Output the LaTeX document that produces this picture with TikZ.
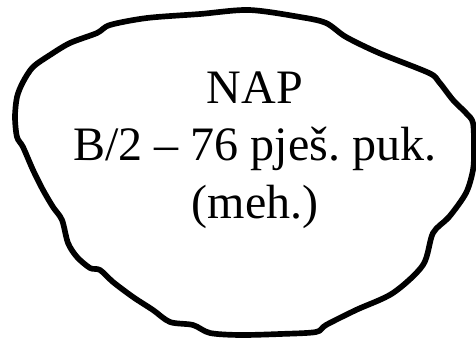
\documentclass[tikz,border=0pt]{standalone}
\usepackage{fontspec}
\setmainfont{Liberation Serif}
\usepackage{tikz}

\begin{document}
\frenchspacing
\begin{tikzpicture}[
    x=0.03cm, y=-0.03cm,
    outline/.style={
        draw=black,
        line width=0.17cm,
        line join=round,
        line cap=round
    },
    label/.style={
        align=center,
        inner sep=0pt,
        font=\fontsize{41}{49}\selectfont
    }
]
\useasboundingbox (0,0) rectangle (476,339);

\draw[outline] plot[smooth cycle, tension=0.5] coordinates {
    (110,25) (147,18) (200,14) (249,10) (300,17) (326,23) (346,37)
    (379,53) (429,73) (439,82) (453,100) (466,113) (473,123) (474,150)
    (473,170) (466,193) (449,217) (433,233) (423,265) (393,293) (356,310)
    (326,325) (316,332) (280,334) (240,335) (210,333) (193,325) (170,322)
    (153,310) (133,297) (113,282) (100,270) (90,268) (77,257) (68,243)
    (62,220) (53,207) (43,190) (33,170) (23,147) (17,137) (15,117)
    (17,97) (23,82) (33,67) (50,55) (70,43) (97,33)};

\node[label] (unit) at (255,150) {NAP\\B/2 -- 76 pješ. puk.\\(meh.)};
\end{tikzpicture}
\end{document}
